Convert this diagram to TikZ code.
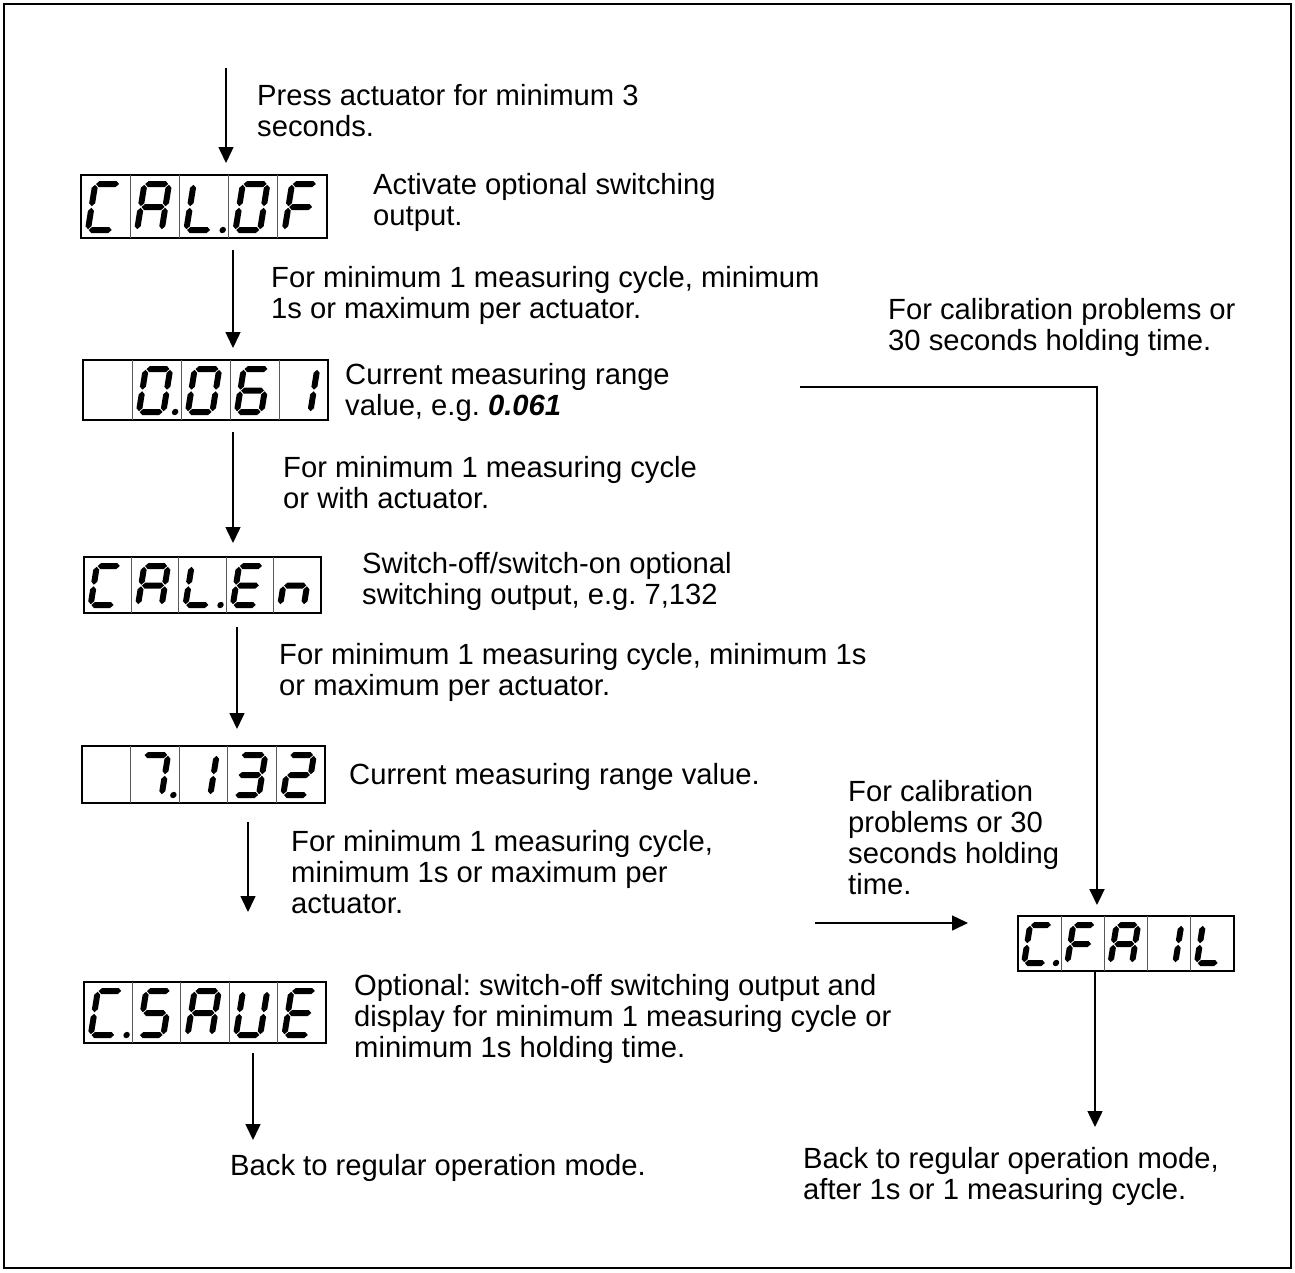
\documentclass[tikz,border=0pt]{standalone}
\usepackage{fontspec}
\setmainfont{Liberation Sans}
\usetikzlibrary{arrows.meta}
\frenchspacing
\tikzset{
 arr/.style={line width=1.5pt, -{Triangle[length=16pt,width=15pt]}},
 lline/.style={line width=2pt, -{Triangle[length=16pt,width=15pt]}},
 dbox/.style={draw, line width=1.2pt, inner sep=0pt, outer sep=0pt},
 divl/.style={line width=0.8pt, black!65},
 txt/.style={font=\fontsize{29.2}{31}\selectfont, align=left, anchor=north west, inner sep=0pt},
}
\newcommand\sgsa{\fill (0.8,\hh) -- (3.8,\hh+3) -- (\ww-3.8,\hh+3) -- (\ww-0.8,\hh) -- (\ww-3.8,\hh-3) -- (3.8,\hh-3) -- cycle;}
\newcommand\sgsg{\fill (0.8,\hm) -- (3.8,\hm+3) -- (\ww-3.8,\hm+3) -- (\ww-0.8,\hm) -- (\ww-3.8,\hm-3) -- (3.8,\hm-3) -- cycle;}
\newcommand\sgsd{\fill (0.8,0) -- (3.8,3) -- (\ww-3.8,3) -- (\ww-0.8,0) -- (\ww-3.8,-3) -- (3.8,-3) -- cycle;}
\newcommand\sgsf{\fill (0,\hm+0.8) -- (3,\hm+3.8) -- (3,\hh-3.8) -- (0,\hh-0.8) -- (-3,\hh-3.8) -- (-3,\hm+3.8) -- cycle;}
\newcommand\sgse{\fill (0,0.8) -- (3,3.8) -- (3,\hm-3.8) -- (0,\hm-0.8) -- (-3,\hm-3.8) -- (-3,3.8) -- cycle;}
\newcommand\sgsb{\fill (\ww,\hm+0.8) -- (\ww+3,\hm+3.8) -- (\ww+3,\hh-3.8) -- (\ww,\hh-0.8) -- (\ww-3,\hh-3.8) -- (\ww-3,\hm+3.8) -- cycle;}
\newcommand\sgsc{\fill (\ww,0.8) -- (\ww+3,3.8) -- (\ww+3,\hm-3.8) -- (\ww,\hm-0.8) -- (\ww-3,\hm-3.8) -- (\ww-3,3.8) -- cycle;}
\newcommand\sgsp{\fill (\ww+\dotx,0) circle (3.2);}
\newcommand\sdigit[5]{%
 \pgfmathsetmacro\ww{0.5*(#3)}%
 \pgfmathsetmacro\hh{(#4)-17}%
 \pgfmathsetmacro\hm{\hh/2}%
 \pgfmathsetmacro\dotx{0.24*(#3)}%
 \pgfmathsetmacro\ox{(#1)+0.14*(#3)}%
 \pgfmathsetmacro\oy{(#2)-8}%
 \begin{scope}[shift={(\ox,\oy)}, x=1pt, y=1pt, xslant=0.16]
  \foreach \sg in {#5} {\csname sgs\sg\endcsname}
 \end{scope}}
\newcommand\dispbox[5]{%
 \node[dbox, minimum width={(#4)-(#2)}, minimum height={(#5)-(#3)}] (#1) at ({((#2)+(#4))/2},{((#3)+(#5))/2}) {};
 \pgfmathsetmacro\dxz{#2}%
 \pgfmathsetmacro\dcw{((#4)-(#2))/5}%
 \pgfmathsetmacro\dyb{#5}%
 \pgfmathsetmacro\dyt{#3}%
 \pgfmathsetmacro\dch{(#5)-(#3)}%
 \foreach \i in {1,...,4} {\draw[divl] ({\dxz+\i*\dcw},\dyt) -- ({\dxz+\i*\dcw},\dyb);}
}
\newcommand\dcell[2]{\sdigit{\dxz+((#1)-1)*\dcw}{\dyb}{\dcw}{\dch}{#2}}
\begin{document}
\begin{tikzpicture}[x=1pt,y=-1pt]
\useasboundingbox (0,0) rectangle (1295,1272);
\coordinate (ftl) at (4,4);
\coordinate (fbr) at (1291,1268);
\draw[line width=1.5pt] (ftl) rectangle (fbr);

% displays
\dispbox{d1}{81}{175}{327}{238}
\dcell{1}{a,d,e,f}\dcell{2}{a,b,c,e,f,g}\dcell{3}{d,e,f,p}\dcell{4}{a,b,c,d,e,f}\dcell{5}{a,e,f,g}
\dispbox{d2}{83}{360}{328}{420}
\dcell{2}{a,b,c,d,e,f,p}\dcell{3}{a,b,c,d,e,f}\dcell{4}{a,c,d,e,f,g}\dcell{5}{b,c}
\dispbox{d3}{84}{557}{321}{613}
\dcell{1}{a,d,e,f}\dcell{2}{a,b,c,e,f,g}\dcell{3}{d,e,f,p}\dcell{4}{a,d,e,f,g}\dcell{5}{c,e,g}
\dispbox{d4}{82}{746}{325}{803}
\dcell{2}{a,b,c,p}\dcell{3}{b,c}\dcell{4}{a,b,c,d,g}\dcell{5}{a,b,d,e,g}
\dispbox{d5}{84}{982}{326}{1043}
\dcell{1}{a,d,e,f,p}\dcell{2}{a,c,d,f,g}\dcell{3}{a,b,c,e,f,g}\dcell{4}{b,c,d,e,f}\dcell{5}{a,d,e,f,g}
\dispbox{d6}{1018}{916}{1234}{971}
\dcell{1}{a,d,e,f,p}\dcell{2}{a,e,f,g}\dcell{3}{a,b,c,e,f,g}\dcell{4}{b,c}\dcell{5}{d,e,f}

% texts
\node[txt] (t1) at (257,84) {\strut Press actuator for minimum 3\\seconds.};
\node[txt] (t2) at (373,173) {\strut Activate optional switching\\output.};
\node[txt] (t3) at (271,266) {\strut For minimum 1 measuring cycle, minimum\\1s or maximum per actuator.};
\node[txt] (t4) at (888,298) {\strut For calibration problems or\\30 seconds holding time.};
\node[txt] (t5) at (345,363) {\strut Current measuring range\\value, e.g. \textbf{\textit{0.061}}};
\node[txt] (t6) at (283,456) {\strut For minimum 1 measuring cycle\\or with actuator.};
\node[txt] (t7) at (362,552) {\strut Switch-off/switch-on optional\\switching output, e.g. 7,132};
\node[txt] (t8) at (279,643) {\strut For minimum 1 measuring cycle, minimum 1s\\or maximum per actuator.};
\node[txt] (t9) at (349,763) {\strut Current measuring range value.};
\node[txt] (t10) at (848,780) {\strut For calibration\\problems or 30\\seconds holding\\time.};
\node[txt] (t11) at (291,830) {\strut For minimum 1 measuring cycle,\\minimum 1s or maximum per\\actuator.};
\node[txt] (t12) at (354,974) {\strut Optional: switch-off switching output and\\display for minimum 1 measuring cycle or\\minimum 1s holding time.};
\node[txt] (t13) at (230,1154) {\strut Back to regular operation mode.};
\node[txt] (t14) at (803,1147) {\strut Back to regular operation mode,\\after 1s or 1 measuring cycle.};

% arrows
\coordinate (a1s) at (226,68);   \coordinate (a1e) at (226,163);
\coordinate (a2s) at (233,250);  \coordinate (a2e) at (233,348);
\coordinate (a3s) at (233,432);  \coordinate (a3e) at (233,543);
\coordinate (a4s) at (237,627);  \coordinate (a4e) at (237,729);
\coordinate (a5s) at (248,822);  \coordinate (a5e) at (248,912);
\coordinate (a6s) at (253,1053); \coordinate (a6e) at (253,1140);
\coordinate (ls) at (800,387); \coordinate (lc) at (1097,387); \coordinate (le) at (1097,905);
\coordinate (hs) at (815,923); \coordinate (he) at (968,923);
\coordinate (fs) at (1095,971); \coordinate (fe) at (1095,1127);
\draw[arr] (a1s) -- (a1e);
\draw[arr] (a2s) -- (a2e);
\draw[arr] (a3s) -- (a3e);
\draw[arr] (a4s) -- (a4e);
\draw[arr] (a5s) -- (a5e);
\draw[arr] (a6s) -- (a6e);
\draw[lline] (ls) -- (lc) -- (le);
\draw[arr] (hs) -- (he);
\draw[arr] (fs) -- (fe);
\end{tikzpicture}
\end{document}
